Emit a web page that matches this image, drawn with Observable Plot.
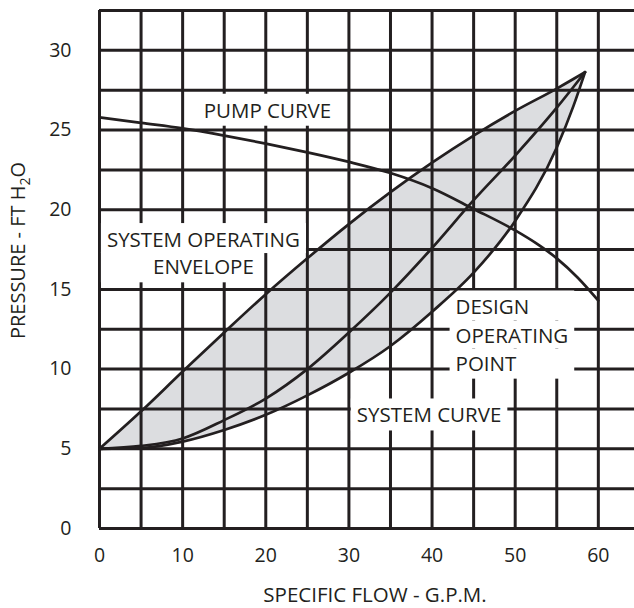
<!DOCTYPE html>
<html><head><meta charset="utf-8">
<script src="https://cdn.jsdelivr.net/npm/d3@7"></script>
<script src="https://cdn.jsdelivr.net/npm/@observablehq/plot@0.6"></script>
<style>body{margin:0;background:#fff;}</style>
</head><body><div id="chart"></div>
<script>
// ---- data ----
const flow          = [0, 5, 10, 15, 20, 25, 30, 35, 40, 45, 50, 55, 57, 58.4];
const envelopeUpper = [5, 7.35, 9.85, 12.3, 14.7, 16.95, 19.1, 21.1, 22.95, 24.65, 26.2, 27.6, 28.2, 28.63];
const designCurve   = [5, 5.18, 5.65, 6.8, 8.15, 10.0, 12.3, 14.8, 17.6, 20.6, 23.4, 26.4, 27.7, 28.63];
const envelopeLower = [5, 5.05, 5.45, 6.18, 7.13, 8.35, 9.77, 11.45, 13.6, 16.05, 19.3, 23.9, 26.5, 28.63];

const pumpFlow = [0, 5, 10, 15, 20, 25, 30, 35, 40, 45, 50, 52.5, 55, 57.5, 60];
const pumpHead = [25.8, 25.45, 25.1, 24.65, 24.15, 23.6, 23.0, 22.3, 21.35, 20.05, 18.7, 17.9, 16.95, 15.75, 14.3];

const gridX = [0, 5, 10, 15, 20, 25, 30, 35, 40, 45, 50, 55, 60];
const gridY = [0, 2.5, 5, 7.5, 10, 12.5, 15, 17.5, 20, 22.5, 25, 27.5, 30, 32.5];
const xTicks = [0, 10, 20, 30, 40, 50, 60];
const yTicks = [0, 5, 10, 15, 20, 25, 30];

const xLabel = "SPECIFIC FLOW - G.P.M.";
const yLabelParts = ["PRESSURE - FT H", "2", "O"];

const labelsCentered = [
  {text: "PUMP CURVE", x: 20.2, y: 26.32},
  {text: "SYSTEM OPERATING\nENVELOPE", x: 12.5, y: 17.35},
  {text: "SYSTEM CURVE", x: 39.64, y: 7.2}
];
const labelsLeft = [
  {text: "DESIGN\nOPERATING\nPOINT", x: 42.83, y: 12.23}
];

// ---- build ----
const envelopeRows = flow.map((f, i) => ({flow: f, upper: envelopeUpper[i], design: designCurve[i], lower: envelopeLower[i]}));
const pumpRows = pumpFlow.map((f, i) => ({flow: f, head: pumpHead[i]}));

const ink = "#231f20";
const font = "'Open Sans', sans-serif";

const plot = Plot.plot({
  width: 634, height: 608,
  marginLeft: 99, marginRight: 0, marginTop: 10, marginBottom: 80,
  style: {fontFamily: font, fontSize: "19.5px", color: ink, background: "#fff"},
  x: {domain: [0, 64.35]},
  y: {domain: [0, 32.5]},
  marks: [
    Plot.areaY(envelopeRows, {x: "flow", y1: "lower", y2: "upper", fill: "#dcdde0", curve: "monotone-x"}),
    Plot.ruleX(gridX, {stroke: ink, strokeWidth: 3}),
    Plot.ruleY(gridY, {stroke: ink, strokeWidth: 3}),
    Plot.line(envelopeRows, {x: "flow", y: "upper", stroke: ink, strokeWidth: 2.7, curve: "monotone-x", ariaDescription: "curves"}),
    Plot.line(envelopeRows, {x: "flow", y: "design", stroke: ink, strokeWidth: 2.7, curve: "monotone-x"}),
    Plot.line(envelopeRows, {x: "flow", y: "lower", stroke: ink, strokeWidth: 2.7, curve: "monotone-x"}),
    Plot.line(pumpRows, {x: "flow", y: "head", stroke: ink, strokeWidth: 2.7, curve: "monotone-x"}),
    Plot.text(labelsCentered, {x: "x", y: "y", text: "text", textAnchor: "middle", lineHeight: 1.33, fontSize: 20.5, fill: ink, ariaDescription: "annotations-middle"}),
    Plot.text(labelsLeft, {x: "x", y: "y", text: "text", textAnchor: "start", lineHeight: 1.37, fontSize: 20.5, fill: ink, ariaDescription: "annotations-start"}),
    Plot.axisX({ticks: xTicks, tickSize: 0, tickPadding: 20, label: null, fontSize: 19.5, fill: ink}),
    Plot.axisY({ticks: yTicks, tickSize: 0, tickPadding: 28, label: null, fontSize: 19.5, fill: ink}),
    Plot.text([xLabel], {text: d => d, frameAnchor: "bottom", lineAnchor: "middle", textAnchor: "middle", dy: 67, dx: 8, fontSize: 20.5, fill: ink}),
    Plot.text([yLabelParts.join("")], {text: d => d, frameAnchor: "left", textAnchor: "middle", lineAnchor: "middle", rotate: -90, dx: -81, dy: -19, fontSize: 20, fill: ink, ariaDescription: "ylabel"})
  ]
});
document.getElementById("chart").append(plot);

// subscript in the y label
d3.select(plot).selectAll('g[aria-description="ylabel"] text').each(function () {
  const t = d3.select(this);
  t.text(null);
  t.append("tspan").text(yLabelParts[0]);
  t.append("tspan").attr("font-size", "14px").attr("dy", "5").text(yLabelParts[1]);
  t.append("tspan").attr("dy", "-5").text(yLabelParts[2]);
});

// white boxes behind annotation labels (hiding grid lines)
const svgBox = plot.getBoundingClientRect();
const boxes = document.createElementNS("http://www.w3.org/2000/svg", "g");
function addRect(l, t, r, b) {
  const e = document.createElementNS("http://www.w3.org/2000/svg", "rect");
  e.setAttribute("x", l - svgBox.left);
  e.setAttribute("y", t - svgBox.top);
  e.setAttribute("width", r - l);
  e.setAttribute("height", b - t);
  e.setAttribute("fill", "#fff");
  boxes.appendChild(e);
}
const padX = 6, padY = 2;
for (const kind of ["middle", "start"]) {
  d3.select(plot).selectAll(`g[aria-description="annotations-${kind}"] text`).each(function () {
    const u = this.getBoundingClientRect();
    const spans = this.querySelectorAll("tspan");
    if (!spans.length) { addRect(u.left - padX, u.top - padY, u.right + padX, u.bottom + padY); return; }
    spans.forEach((s, i) => {
      const b = s.getBoundingClientRect();
      const top = i === 0 ? u.top - padY : b.top;
      const bottom = i === spans.length - 1 ? u.bottom + padY : b.bottom;
      const right = kind === "start" ? u.right + padX : b.right + padX;
      addRect(u.left - padX, top, right, bottom);
    });
  });
}
const curvesG = plot.querySelector('g[aria-description="curves"]');
plot.insertBefore(boxes, curvesG);
</script>
</body></html>
